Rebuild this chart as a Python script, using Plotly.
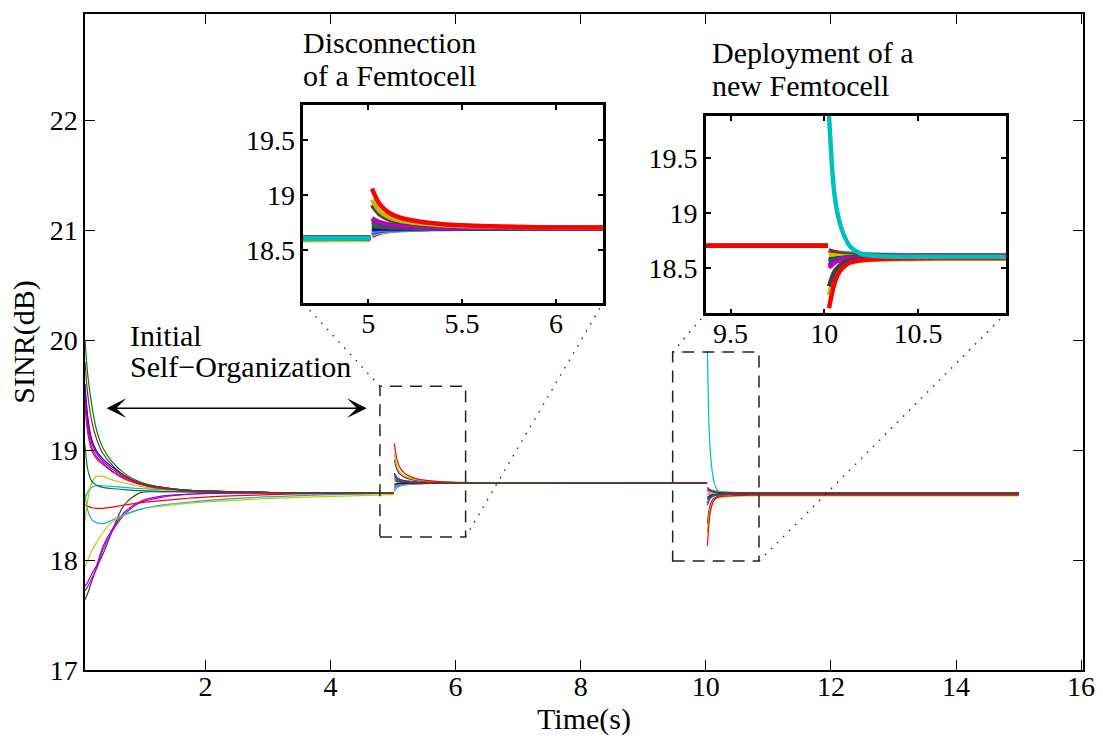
import plotly.graph_objects as go

# ------------------------------------------------------------------
# Data
# ------------------------------------------------------------------
# sample times of the three phases (s)
t_phase1 = [0.075, 0.12, 0.18, 0.26, 0.36, 0.5, 0.7, 0.95, 1.3, 1.8, 2.5, 3.5, 5.01]
t_phase2 = [5.02, 5.06, 5.11, 5.18, 5.27, 5.4, 5.6, 5.9, 6.4, 10.02]
t_phase3 = [10.025, 10.05, 10.07, 10.1, 10.14, 10.2, 10.3, 10.45, 10.7, 11.2, 12.0, 15.0]

# SINR (dB) per user: phase 1 + phase 2 + phase 3
green_a = ([20.0, 19.68, 19.42, 19.18, 19.02, 18.9, 18.79, 18.71, 18.66, 18.63, 18.62, 18.61, 18.61]
           + [18.76, 18.736, 18.723, 18.715, 18.71, 18.706, 18.703, 18.702, 18.701, 18.70]
           + [18.55, 18.565, 18.575, 18.585, 18.59, 18.595, 18.6, 18.6, 18.6, 18.6, 18.6, 18.6])
brown = ([19.8, 19.5, 19.27, 19.1, 18.97, 18.87, 18.77, 18.7, 18.66, 18.63, 18.62, 18.61, 18.61]
         + [18.72, 18.712, 18.708, 18.705, 18.703, 18.702, 18.701, 18.70, 18.70, 18.70]
         + [18.66, 18.645, 18.635, 18.625, 18.618, 18.615, 18.612, 18.61, 18.61, 18.61, 18.61, 18.61])
blue = ([19.6, 19.3, 19.1, 18.99, 18.92, 18.85, 18.77, 18.7, 18.66, 18.63, 18.62, 18.61, 18.61]
        + [18.69, 18.694, 18.696, 18.697, 18.698, 18.699, 18.70, 18.70, 18.70, 18.70]
        + [18.57, 18.58, 18.585, 18.59, 18.595, 18.6, 18.6, 18.6, 18.6, 18.6, 18.6, 18.6])
red_a = ([19.5, 19.2, 19.03, 18.94, 18.88, 18.81, 18.74, 18.69, 18.65, 18.63, 18.62, 18.61, 18.61]
         + [19.06, 18.92, 18.84, 18.79, 18.76, 18.736, 18.72, 18.709, 18.704, 18.70]
         + [18.13, 18.33, 18.43, 18.5, 18.55, 18.57, 18.58, 18.585, 18.59, 18.59, 18.59, 18.59])
purple_a = ([19.55, 19.25, 19.07, 18.97, 18.9, 18.83, 18.76, 18.7, 18.66, 18.63, 18.62, 18.61, 18.61]
            + [18.78, 18.748, 18.73, 18.72, 18.714, 18.708, 18.704, 18.702, 18.701, 18.70]
            + [18.52, 18.55, 18.565, 18.58, 18.59, 18.595, 18.6, 18.6, 18.6, 18.6, 18.6, 18.6])
magenta_a = ([19.4, 19.15, 19.0, 18.92, 18.87, 18.81, 18.75, 18.69, 18.65, 18.63, 18.62, 18.61, 18.61]
             + [18.79, 18.754, 18.734, 18.723, 18.715, 18.709, 18.705, 18.702, 18.701, 18.70]
             + [18.5, 18.54, 18.56, 18.575, 18.585, 18.59, 18.595, 18.6, 18.6, 18.6, 18.6, 18.6])
green_b = ([19.05, 18.82, 18.72, 18.68, 18.66, 18.65, 18.64, 18.63, 18.625, 18.62, 18.615, 18.61, 18.61]
           + [18.74, 18.724, 18.715, 18.71, 18.707, 18.704, 18.702, 18.701, 18.70, 18.70]
           + [18.56, 18.575, 18.58, 18.59, 18.595, 18.6, 18.605, 18.605, 18.605, 18.605, 18.605, 18.605])
yellow_a = ([18.35, 18.55, 18.7, 18.76, 18.76, 18.73, 18.7, 18.67, 18.645, 18.63, 18.62, 18.61, 18.61]
            + [18.96, 18.856, 18.799, 18.765, 18.744, 18.726, 18.714, 18.707, 18.703, 18.70]
            + [18.25, 18.4, 18.47, 18.52, 18.55, 18.565, 18.575, 18.58, 18.585, 18.585, 18.585, 18.585])
cyan_a = ([18.55, 18.62, 18.66, 18.675, 18.675, 18.67, 18.66, 18.65, 18.64, 18.63, 18.62, 18.61, 18.61]
          + [18.67, 18.682, 18.689, 18.693, 18.695, 18.697, 18.698, 18.699, 18.70, 18.70]
          + [19.9, 19.24, 19.0, 18.82, 18.69, 18.625, 18.605, 18.6, 18.6, 18.6, 18.6, 18.6])
red_b = ([18.5, 18.49, 18.475, 18.47, 18.47, 18.48, 18.5, 18.52, 18.54, 18.565, 18.585, 18.6, 18.61]
         + [18.68, 18.688, 18.692, 18.695, 18.697, 18.698, 18.699, 18.70, 18.70, 18.70]
         + [18.64, 18.635, 18.63, 18.625, 18.62, 18.615, 18.61, 18.61, 18.61, 18.61, 18.61, 18.61])
cyan_b = ([18.6, 18.45, 18.37, 18.34, 18.33, 18.36, 18.41, 18.46, 18.5, 18.53, 18.56, 18.585, 18.605]
          + [18.65, 18.67, 18.681, 18.688, 18.692, 18.695, 18.697, 18.699, 18.70, 18.70]
          + [18.655, 18.645, 18.64, 18.635, 18.63, 18.625, 18.62, 18.615, 18.61, 18.61, 18.61, 18.61])
yellow_b = ([17.94, 18.0, 18.08, 18.16, 18.25, 18.34, 18.41, 18.46, 18.49, 18.52, 18.545, 18.57, 18.595]
            + [18.64, 18.664, 18.677, 18.685, 18.69, 18.694, 18.697, 18.699, 18.70, 18.70]
            + [18.62, 18.615, 18.61, 18.605, 18.6, 18.595, 18.59, 18.59, 18.585, 18.585, 18.585, 18.585])
purple_b = ([17.76, 17.8, 17.87, 17.95, 18.12, 18.27, 18.43, 18.53, 18.58, 18.6, 18.61, 18.61, 18.61]
            + [18.66, 18.676, 18.685, 18.69, 18.693, 18.696, 18.698, 18.699, 18.70, 18.70]
            + [18.63, 18.63, 18.625, 18.62, 18.615, 18.61, 18.61, 18.61, 18.61, 18.61, 18.61, 18.61])
magenta_b = ([17.72, 17.76, 17.83, 17.92, 18.09, 18.25, 18.41, 18.52, 18.57, 18.6, 18.61, 18.61, 18.61]
             + [18.63, 18.658, 18.673, 18.683, 18.688, 18.693, 18.696, 18.698, 18.70, 18.70]
             + [18.6, 18.6, 18.6, 18.6, 18.6, 18.6, 18.6, 18.6, 18.6, 18.6, 18.6, 18.6])
gray = ([17.64, 17.7, 17.8, 17.93, 18.05, 18.25, 18.5, 18.61, 18.62, 18.62, 18.61, 18.61, 18.61]
        + [18.91, 18.826, 18.78, 18.753, 18.736, 18.721, 18.712, 18.705, 18.702, 18.70]
        + [18.33, 18.45, 18.5, 18.54, 18.565, 18.58, 18.59, 18.595, 18.6, 18.6, 18.6, 18.6])

x_ticks_main = [2, 4, 6, 8, 10, 12, 14, 16]
y_ticks_main = [17, 18, 19, 20, 21, 22]
x_ticks_inset1 = [5, 5.5, 6]
x_ticks_inset2 = [9.5, 10, 10.5]
y_ticks_inset = [18.5, 19, 19.5]

# ------------------------------------------------------------------
# Styling / layout constants
# ------------------------------------------------------------------
COLORS = {
    "green_a": "#008000", "brown": "#8c2a22", "blue": "#0000ff", "red_a": "#ff0000",
    "purple_a": "#8a00e6", "magenta_a": "#bf00bf", "green_b": "#007a3d",
    "yellow_a": "#bfbf00", "cyan_a": "#00bfbf", "red_b": "#ff0000",
    "cyan_b": "#14b4b4", "yellow_b": "#c8c800", "purple_b": "#9400d3",
    "magenta_b": "#bf00bf", "gray": "#404040",
}
SERIES = {
    "green_a": green_a, "brown": brown, "blue": blue, "red_a": red_a,
    "purple_a": purple_a, "magenta_a": magenta_a, "green_b": green_b,
    "yellow_a": yellow_a, "cyan_a": cyan_a, "red_b": red_b, "cyan_b": cyan_b,
    "yellow_b": yellow_b, "purple_b": purple_b, "magenta_b": magenta_b, "gray": gray,
}
MAIN_ORDER = ["gray", "magenta_b", "purple_b", "yellow_b", "cyan_b", "red_b", "cyan_a",
              "yellow_a", "green_b", "magenta_a", "red_a", "blue", "purple_a", "green_a", "brown"]
P1_ORDER = ["gray", "magenta_b", "purple_b", "yellow_b", "red_b", "brown", "green_b",
            "yellow_a", "magenta_a", "purple_a", "blue", "green_a", "red_a", "cyan_b", "cyan_a"]
P2_ORDER = ["magenta_b", "yellow_b", "cyan_b", "purple_b", "red_b", "cyan_a", "blue", "brown",
            "green_b", "green_a", "purple_a", "magenta_a", "gray", "yellow_a", "red_a"]
P3_ORDER = ["magenta_b", "purple_b", "red_b", "cyan_b", "brown", "yellow_b", "blue", "green_b",
            "green_a", "purple_a", "magenta_a", "yellow_a", "gray", "red_a", "cyan_a"]

W, H = 1103, 740
ML, MR, MT, MB = 85, 20, 14, 70
X_RANGE = [0.075, 16.03]
Y_RANGE = [17.0, 22.964]
FONT = "'Liberation Serif', 'Times New Roman', 'DejaVu Serif', serif"

n1, n2 = len(t_phase1), len(t_phase2)


def split(vals):
    return vals[:n1], vals[n1:n1 + n2], vals[n1 + n2:]


def xfrac(x):
    return (x - X_RANGE[0]) / (X_RANGE[1] - X_RANGE[0])


def yfrac(y):
    return (y - Y_RANGE[0]) / (Y_RANGE[1] - Y_RANGE[0])


def px_x(px):
    return (px - ML) / (W - ML - MR)


def px_y(py):
    return (H - MB - py) / (H - MB - MT)


# inset rectangles in main-data coordinates
IN1 = dict(x0=3.565, x1=8.352, y0=20.333, y1=22.136)
IN2 = dict(x0=10.0, x1=14.80, y0=20.243, y1=22.036)
BOX1 = dict(x0=4.79, x1=6.16, y0=18.21, y1=19.58)
BOX2 = dict(x0=9.47, x1=10.85, y0=17.99, y1=19.89)

fig = go.Figure()

# main plot
for name in MAIN_ORDER:
    p1, p2, p3 = split(SERIES[name])
    fig.add_trace(go.Scatter(
        x=t_phase1 + [None] + t_phase2 + [None] + t_phase3,
        y=p1 + [None] + p2 + [None] + p3,
        mode="lines", line=dict(color=COLORS[name], width=1.2, shape="spline", smoothing=0.8),
        xaxis="x", yaxis="y", showlegend=False, hoverinfo="skip"))

# inset 1: phases 1 and 2
for phase, order, tt in ((0, P1_ORDER, t_phase1), (1, P2_ORDER, t_phase2)):
    for name in order:
        seg = split(SERIES[name])[phase]
        fig.add_trace(go.Scatter(
            x=tt, y=seg, mode="lines",
            line=dict(color=COLORS[name], width=4.5, shape="spline", smoothing=0.8),
            xaxis="x2", yaxis="y2", showlegend=False, hoverinfo="skip"))

# inset 2: phases 2 and 3
for phase, order, tt in ((1, P2_ORDER, t_phase2), (2, P3_ORDER, t_phase3)):
    for name in order:
        seg = split(SERIES[name])[phase]
        fig.add_trace(go.Scatter(
            x=tt, y=seg, mode="lines",
            line=dict(color=COLORS[name], width=4.5, shape="spline", smoothing=0.8),
            xaxis="x3", yaxis="y3", showlegend=False, hoverinfo="skip"))

tickfont = dict(family=FONT, size=28, color="black")
main_axis = dict(showline=True, linecolor="black", linewidth=1.5, mirror="ticks",
                 ticks="inside", ticklen=10, tickwidth=1, tickcolor="black",
                 showgrid=False, zeroline=False, tickfont=tickfont, automargin=False)
inset_axis = dict(showline=True, linecolor="black", linewidth=2.5, mirror="ticks",
                  ticks="inside", ticklen=5, tickwidth=1.5, tickcolor="black",
                  showgrid=False, zeroline=False, tickfont=tickfont, automargin=False)

fig.update_layout(
    template="none",
    width=W, height=H,
    margin=dict(l=ML, r=MR, t=MT, b=MB),
    paper_bgcolor="white", plot_bgcolor="white",
    font=dict(family=FONT, color="black"),
    xaxis=dict(main_axis, range=X_RANGE, tickvals=x_ticks_main, ticklabelstandoff=-9,
               title=dict(text="Time(s)", font=dict(family=FONT, size=30), standoff=6)),
    yaxis=dict(main_axis, range=Y_RANGE, tickvals=y_ticks_main,
               title=dict(text="SINR(dB)", font=dict(family=FONT, size=30), standoff=6)),
    xaxis2=dict(inset_axis, domain=[xfrac(IN1["x0"]), xfrac(IN1["x1"])], anchor="y2",
                range=[4.654, 6.249], tickvals=x_ticks_inset1, ticklabelstandoff=-7),
    yaxis2=dict(inset_axis, domain=[yfrac(IN1["y0"]), yfrac(IN1["y1"])], anchor="x2",
                range=[18.015, 19.82], tickvals=y_ticks_inset),
    xaxis3=dict(inset_axis, domain=[xfrac(IN2["x0"]), xfrac(IN2["x1"])], anchor="y3",
                range=[9.368, 10.97], tickvals=x_ticks_inset2, ticklabelstandoff=-7),
    yaxis3=dict(inset_axis, domain=[yfrac(IN2["y0"]), yfrac(IN2["y1"])], anchor="x3",
                range=[18.084, 19.886], tickvals=y_ticks_inset),
)

shapes = []
for b in (BOX1, BOX2):
    shapes.append(dict(type="rect", xref="x", yref="y", x0=b["x0"], x1=b["x1"], y0=b["y0"], y1=b["y1"],
                       line=dict(color="#222222", width=1.5, dash="12px,8px")))
dotted = dict(color="#333333", width=1.5, dash="1.5px,7px")
for (xa, ya, xb, yb) in ((BOX1["x0"], BOX1["y1"], IN1["x0"], IN1["y0"]),
                         (BOX1["x1"], BOX1["y0"], IN1["x1"], IN1["y0"]),
                         (BOX2["x0"], BOX2["y1"], IN2["x0"], IN2["y0"]),
                         (BOX2["x1"], BOX2["y0"], IN2["x1"], IN2["y0"])):
    shapes.append(dict(type="line", xref="x", yref="y", x0=xa, y0=ya, x1=xb, y1=yb, line=dotted))
fig.update_layout(shapes=shapes)

annots = []
for text, px, py in (("Disconnection", 301, 43), ("of a Femtocell", 301, 76),
                     ("Deployment of a", 710, 52), ("new Femtocell", 710, 85),
                     ("Initial", 128, 335), ("Self\u2212Organization", 128, 366)):
    annots.append(dict(text=text, x=px_x(px), y=px_y(py), xref="paper", yref="paper",
                       xanchor="left", yanchor="middle", showarrow=False,
                       font=dict(family=FONT, size=30, color="black")))
annots.append(dict(text="", x=4.579, y=19.38, ax=0.395, ay=19.38, xref="x", yref="y",
                   axref="x", ayref="y", showarrow=True, arrowside="end+start",
                   arrowhead=3, startarrowhead=3, arrowsize=2.2, startarrowsize=2.2,
                   arrowwidth=1.5, arrowcolor="black"))
fig.update_layout(annotations=annots)

fig.write_html("out.html")
